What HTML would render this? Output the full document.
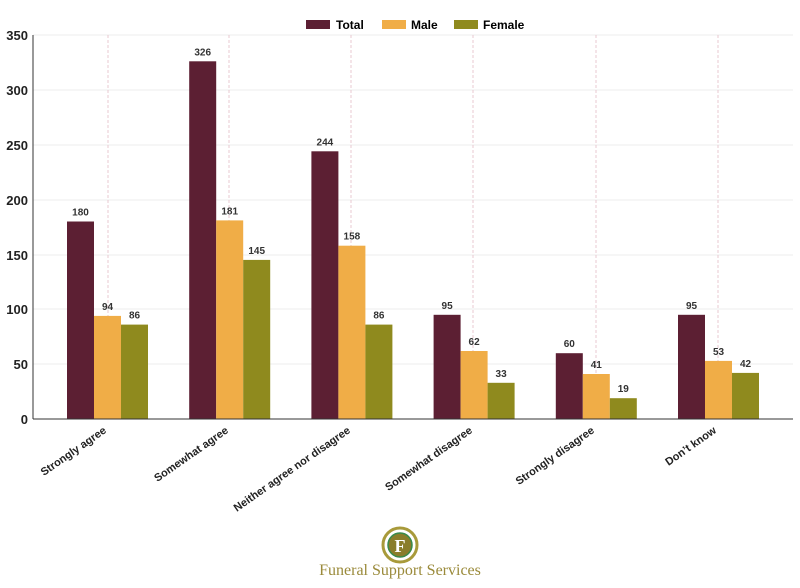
<!DOCTYPE html><html><head><style>body{margin:0;background:#fff}svg{display:block}</style></head><body>
<svg width="800" height="588" xmlns="http://www.w3.org/2000/svg" font-family="Liberation Sans, sans-serif">
<g stroke="#eee" stroke-width="1">
<line x1="33" y1="35" x2="793" y2="35"/><line x1="33" y1="90" x2="793" y2="90"/><line x1="33" y1="145" x2="793" y2="145"/><line x1="33" y1="200" x2="793" y2="200"/><line x1="33" y1="255" x2="793" y2="255"/><line x1="33" y1="309" x2="793" y2="309"/><line x1="33" y1="364" x2="793" y2="364"/>
</g>
<g stroke="#e8c8d0" stroke-width="1" stroke-dasharray="3,2">
<line x1="108" y1="35" x2="108" y2="419"/><line x1="229" y1="35" x2="229" y2="419"/><line x1="351" y1="35" x2="351" y2="419"/><line x1="473" y1="35" x2="473" y2="419"/><line x1="596" y1="35" x2="596" y2="419"/><line x1="718" y1="35" x2="718" y2="419"/>
</g>
<g font-size="13" font-weight="bold" fill="#222" text-anchor="end">
<text x="28" y="40">350</text><text x="28" y="95">300</text><text x="28" y="150">250</text><text x="28" y="205">200</text><text x="28" y="260">150</text><text x="28" y="314">100</text><text x="28" y="369">50</text><text x="28" y="424">0</text>
</g>
<g fill="#5c1f33">
<rect x="67" y="221.5" width="27" height="197.5"/><rect x="189.2" y="61.3" width="27" height="357.7"/><rect x="311.4" y="151.3" width="27" height="267.7"/><rect x="433.6" y="314.8" width="27" height="104.2"/><rect x="555.8" y="353.2" width="27" height="65.8"/><rect x="678" y="314.8" width="27" height="104.2"/>
</g>
<g fill="#f0ad47">
<rect x="94" y="315.9" width="27" height="103.1"/><rect x="216.2" y="220.4" width="27" height="198.6"/><rect x="338.4" y="245.7" width="27" height="173.3"/><rect x="460.6" y="351" width="27" height="68"/><rect x="582.8" y="374" width="27" height="45"/><rect x="705" y="360.9" width="27" height="58.1"/>
</g>
<g fill="#8f8a1e">
<rect x="121" y="324.6" width="27" height="94.4"/><rect x="243.2" y="259.9" width="27" height="159.1"/><rect x="365.4" y="324.6" width="27" height="94.4"/><rect x="487.6" y="382.8" width="27" height="36.2"/><rect x="609.8" y="398.2" width="27" height="20.8"/><rect x="732" y="372.9" width="27" height="46.1"/>
</g>
<g font-size="10" font-weight="bold" fill="#333" text-anchor="middle">
<text x="80.5" y="215.5">180</text><text x="107.5" y="309.9">94</text><text x="134.5" y="318.6">86</text>
<text x="202.7" y="55.3">326</text><text x="229.7" y="214.4">181</text><text x="256.7" y="253.9">145</text>
<text x="324.9" y="145.3">244</text><text x="351.9" y="239.7">158</text><text x="378.9" y="318.6">86</text>
<text x="447.1" y="308.8">95</text><text x="474.1" y="345">62</text><text x="501.1" y="376.8">33</text>
<text x="569.3" y="347.2">60</text><text x="596.3" y="368">41</text><text x="623.3" y="392.2">19</text>
<text x="691.5" y="308.8">95</text><text x="718.5" y="354.9">53</text><text x="745.5" y="366.9">42</text>
</g>
<g font-size="11" font-weight="bold" fill="#222" text-anchor="end">
<text transform="translate(107,432) rotate(-35)">Strongly agree</text>
<text transform="translate(229,432) rotate(-35)">Somewhat agree</text>
<text transform="translate(351,432) rotate(-35)">Neither agree nor disagree</text>
<text transform="translate(473,432) rotate(-35)">Somewhat disagree</text>
<text transform="translate(595,432) rotate(-35)">Strongly disagree</text>
<text transform="translate(717,432) rotate(-35)">Don’t know</text>
</g>
<line x1="33" y1="35" x2="33" y2="419" stroke="#333"/>
<line x1="33" y1="419" x2="793" y2="419" stroke="#333"/>
<g font-size="12" font-weight="bold">
<rect x="306" y="20" width="24" height="9" fill="#5c1f33"/><text x="336" y="29">Total</text>
<rect x="382" y="20" width="24" height="9" fill="#f0ad47"/><text x="411" y="29">Male</text>
<rect x="454" y="20" width="24" height="9" fill="#8f8a1e"/><text x="483" y="29">Female</text>
</g>
<circle cx="400" cy="545" r="17" fill="none" stroke="#a89a3a" stroke-width="3"/>
<circle cx="400" cy="545" r="12" fill="#8a7d2a" stroke="#3a8a4a" stroke-width="1.5"/>
<text x="400" y="552" font-family="Liberation Serif, serif" font-size="18" fill="#fff" text-anchor="middle" font-weight="bold">F</text>
<text x="400" y="575" font-family="Liberation Serif, serif" font-size="16" fill="#9a8a3a" text-anchor="middle">Funeral Support Services</text>
</svg></body></html>
